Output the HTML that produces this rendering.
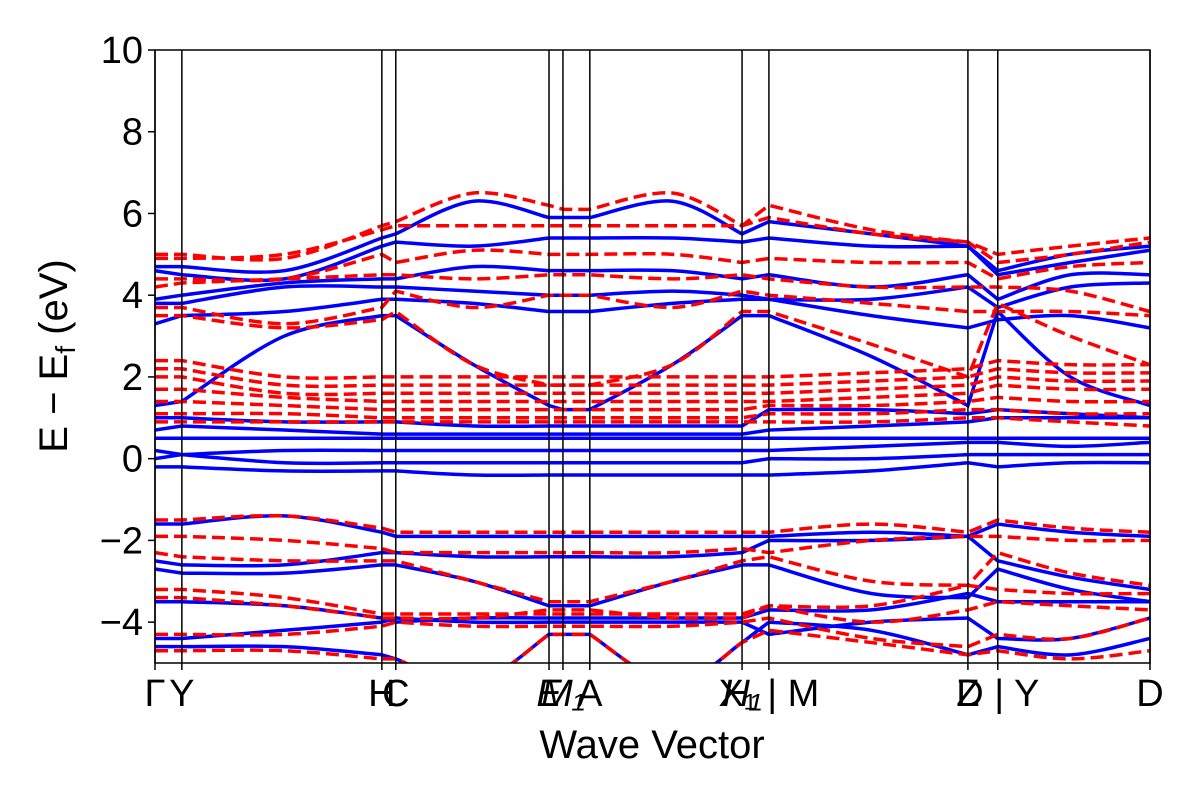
<!DOCTYPE html>
<html><head><meta charset="utf-8"><style>
body{margin:0;background:#fff}
svg text{font-family:"Liberation Sans","DejaVu Sans",sans-serif;fill:#000}
</style></head><body>
<svg id="c" width="1200" height="800" xmlns="http://www.w3.org/2000/svg">
<g id="bands"></g>
<g id="axes"></g>
</svg>
<script>
const kSamples=[0,0.027,0.13,0.228,0.242,0.32,0.396,0.41,0.437,0.52,0.59,0.617,0.72,0.817,0.847,0.92,1.0];
const tickK=[0,0.027,0.228,0.242,0.396,0.410,0.437,0.590,0.617,0.817,0.847,1.0];
const tickLabels=["Γ","Y","H","C","E","M₁","A","H₁","X₁ | M","Z","D | Y","D"];
const yTicks=[-4,-2,0,2,4,6,8,10];
const blueBands=[
[4.7,4.7,4.6,5.4,5.5,6.3,5.9,5.9,5.9,6.3,5.5,5.8,5.5,5.2,4.6,5.0,5.2],
[4.6,4.5,4.4,5.2,5.3,5.2,5.4,5.4,5.4,5.4,5.3,5.4,5.2,5.2,4.5,4.8,5.1],
[3.9,4.0,4.3,4.4,4.4,4.7,4.6,4.6,4.6,4.6,4.4,4.5,4.2,4.5,3.9,4.5,4.5],
[3.8,3.8,4.2,4.2,4.2,4.1,4.0,4.0,4.0,4.1,4.0,3.9,3.9,4.2,3.7,4.2,4.3],
[3.3,3.5,3.6,3.9,3.9,3.8,3.6,3.6,3.6,3.8,3.9,3.9,3.5,3.2,3.4,3.5,3.2],
[1.3,1.4,3.0,3.5,3.5,2.3,1.3,1.2,1.2,2.3,3.5,3.5,2.5,1.3,3.6,2.0,1.3],
[1.0,1.0,0.9,0.9,0.9,0.8,0.8,0.8,0.8,0.8,0.8,1.2,1.2,1.1,1.2,1.1,1.0],
[0.7,0.8,0.7,0.6,0.6,0.6,0.6,0.6,0.6,0.6,0.6,0.7,0.8,0.9,1.0,1.0,1.0],
[0.5,0.5,0.5,0.5,0.5,0.5,0.5,0.5,0.5,0.5,0.5,0.5,0.5,0.5,0.5,0.5,0.5],
[0.2,0.1,0.2,0.2,0.2,0.2,0.2,0.2,0.2,0.2,0.2,0.2,0.3,0.4,0.4,0.3,0.4],
[0.0,0.1,-0.1,-0.1,-0.1,-0.1,-0.1,-0.1,-0.1,-0.1,-0.1,0.0,0.0,0.1,0.1,0.1,0.1],
[-0.2,-0.2,-0.3,-0.3,-0.3,-0.4,-0.4,-0.4,-0.4,-0.4,-0.4,-0.4,-0.3,-0.1,-0.2,-0.1,-0.1],
[-1.6,-1.6,-1.4,-1.8,-1.9,-1.9,-1.9,-1.9,-1.9,-1.9,-1.9,-1.9,-1.8,-1.9,-1.6,-1.8,-1.9],
[-2.5,-2.6,-2.6,-2.3,-2.3,-2.4,-2.4,-2.4,-2.4,-2.4,-2.3,-2.0,-2.0,-1.9,-2.5,-2.9,-3.2],
[-2.7,-2.8,-2.8,-2.6,-2.6,-3.0,-3.6,-3.6,-3.6,-3.0,-2.6,-2.6,-3.3,-3.4,-2.7,-3.2,-3.5],
[-3.5,-3.5,-3.6,-3.9,-4.0,-3.9,-3.9,-3.9,-3.9,-3.9,-3.9,-3.7,-3.7,-3.3,-3.5,-3.5,-3.5],
[-4.4,-4.4,-4.2,-4.0,-3.9,-4.0,-4.0,-4.0,-4.0,-4.0,-4.0,-4.3,-4.0,-3.9,-4.4,-4.4,-3.9],
[-4.6,-4.6,-4.6,-4.8,-4.9,-5.5,-4.3,-4.3,-4.3,-5.5,-4.5,-4.0,-4.2,-4.8,-4.6,-4.8,-4.4]];
const redBands=[
[5.0,5.0,4.9,5.7,5.8,6.5,6.2,6.1,6.1,6.5,5.7,6.2,5.6,5.3,5.0,5.2,5.4],
[4.9,4.9,5.0,5.6,5.7,5.7,5.7,5.7,5.7,5.7,5.7,5.9,5.5,5.3,4.8,5.0,5.3],
[4.4,4.4,4.4,5.0,4.8,5.1,5.0,5.0,5.0,5.0,4.8,4.9,4.8,4.8,4.4,4.7,4.8],
[4.2,4.3,4.4,4.5,4.5,4.4,4.5,4.5,4.5,4.4,4.5,4.4,4.2,4.2,4.2,4.1,3.6],
[3.7,3.7,3.3,3.7,4.1,3.7,4.0,4.0,4.0,3.7,4.1,4.0,3.8,3.6,3.6,3.6,3.5],
[3.5,3.5,3.2,3.4,3.6,2.3,1.8,1.8,1.8,2.3,3.6,3.6,2.8,2.0,3.8,3.0,2.3],
[2.4,2.4,2.0,2.0,2.0,2.0,2.0,2.0,2.0,2.0,2.0,2.0,2.1,2.2,2.4,2.3,2.3],
[2.2,2.2,1.8,1.8,1.8,1.8,1.8,1.8,1.8,1.8,1.8,1.8,1.9,2.0,2.2,2.1,2.1],
[2.0,2.0,1.6,1.6,1.6,1.6,1.6,1.6,1.6,1.6,1.6,1.6,1.7,1.8,2.0,1.9,1.9],
[1.7,1.7,1.5,1.4,1.4,1.4,1.4,1.4,1.4,1.4,1.4,1.4,1.5,1.6,1.8,1.7,1.7],
[1.4,1.4,1.3,1.2,1.2,1.2,1.2,1.2,1.2,1.2,1.2,1.3,1.3,1.4,1.5,1.4,1.4],
[1.1,1.1,1.1,1.0,1.0,1.0,1.0,1.0,1.0,1.0,1.0,1.1,1.1,1.2,1.2,1.1,1.1],
[0.9,0.9,0.9,0.9,0.9,0.9,0.9,0.9,0.9,0.9,0.9,0.9,0.9,1.0,1.0,0.9,0.8],
[-1.5,-1.5,-1.4,-1.7,-1.8,-1.8,-1.8,-1.8,-1.8,-1.8,-1.8,-1.8,-1.6,-1.8,-1.5,-1.7,-1.8],
[-1.9,-1.9,-2.0,-2.2,-2.3,-2.3,-2.3,-2.3,-2.3,-2.3,-2.2,-2.3,-2.0,-1.9,-1.9,-2.0,-2.0],
[-2.3,-2.4,-2.5,-2.5,-2.5,-3.0,-3.5,-3.5,-3.5,-3.0,-2.5,-2.4,-3.0,-3.1,-2.3,-2.8,-3.1],
[-3.2,-3.2,-3.4,-3.8,-3.8,-3.8,-3.8,-3.8,-3.8,-3.8,-3.8,-3.6,-3.6,-3.1,-3.2,-3.3,-3.3],
[-3.4,-3.4,-3.6,-3.9,-3.9,-3.9,-3.7,-3.7,-3.7,-3.9,-3.9,-3.6,-4.0,-3.7,-3.5,-3.6,-3.7],
[-4.3,-4.3,-4.3,-4.1,-4.0,-4.1,-4.1,-4.1,-4.1,-4.1,-4.0,-3.9,-4.4,-4.6,-4.3,-4.4,-3.9],
[-4.7,-4.7,-4.7,-4.9,-4.9,-5.5,-4.3,-4.3,-4.3,-5.5,-4.5,-4.2,-4.5,-4.8,-4.7,-4.9,-4.7]];

const X0=155,X1=1150,Y0=50,Y1=663,EMIN=-5,EMAX=10;
const xs=k=>X0+k*(X1-X0);
const ys=e=>Y1-(e-EMIN)/(EMAX-EMIN)*(Y1-Y0);
const NS="http://www.w3.org/2000/svg";
const svg=document.getElementById('c'),bg=document.getElementById('bands'),ax=document.getElementById('axes');
function mk(t,a,p){const e=document.createElementNS(NS,t);for(const k in a)e.setAttribute(k,a[k]);p.appendChild(e);return e;}
const defs=mk('defs',{},svg);const cp=mk('clipPath',{id:'clip'},defs);
mk('rect',{x:X0,y:Y0,width:X1-X0,height:Y1-Y0},cp);
bg.setAttribute('clip-path','url(#clip)');
function pathFor(b){
  const p=kSamples.map((k,i)=>[xs(k),ys(b[i])]);
  let d='M'+p[0][0]+','+p[0][1];
  for(let i=0;i<p.length-1;i++){
    const p1=p[i],p2=p[i+1];
    if(kSamples[i+1]-kSamples[i]<0.04){d+=` L${p2[0]},${p2[1]}`;continue;}
    let p0=p[Math.max(0,i-1)],p3=p[Math.min(p.length-1,i+2)];
    if(i>0&&kSamples[i]-kSamples[i-1]<0.04)p0=p1;
    if(i+2<p.length&&kSamples[i+2]-kSamples[i+1]<0.04)p3=p2;
    const c1x=p1[0]+(p2[0]-p0[0])/6,c1y=p1[1]+(p2[1]-p0[1])/6;
    const c2x=p2[0]-(p3[0]-p1[0])/6,c2y=p2[1]-(p3[1]-p1[1])/6;
    d+=` C${c1x},${c1y} ${c2x},${c2y} ${p2[0]},${p2[1]}`;
  }
  return d;
}
blueBands.forEach((b,i)=>{
  const e=mk('path',{d:pathFor(b),fill:'none',stroke:'#0000ff','stroke-width':3.5},bg);
  
  
});
redBands.forEach((b,i)=>{
  const e=mk('path',{d:pathFor(b),fill:'none',stroke:'#ff0000','stroke-width':3.5,'stroke-dasharray':'13,6'},bg);
  
  
});
tickK.forEach((k,i)=>{
  const l=mk('line',{x1:xs(k),x2:xs(k),y1:Y0,y2:Y1,stroke:'#000','stroke-width':1.5},ax);
  
  
  mk('line',{x1:xs(k),x2:xs(k),y1:Y1,y2:Y1+7,stroke:'#000','stroke-width':1.5},ax);
  const t=mk('text',{x:xs(k),y:706,'font-size':38,'text-anchor':'middle'},ax);
  if(["E","M₁","H₁"].includes(tickLabels[i]))t.setAttribute('font-style','italic');
  t.textContent=tickLabels[i];
  
  
});
yTicks.forEach(v=>{
  mk('line',{x1:X0-7,x2:X0,y1:ys(v),y2:ys(v),stroke:'#000','stroke-width':1.5},ax);
  const t=mk('text',{x:X0-12,y:ys(v)+13,'font-size':38,'text-anchor':'end'},ax);
  t.textContent=String(v).replace('-','−');
  
  
});
const fr=mk('rect',{x:X0,y:Y0,width:X1-X0,height:Y1-Y0,fill:'none',stroke:'#000','stroke-width':1.5},ax);


const xl=mk('text',{x:652,y:758,'font-size':40,'text-anchor':'middle'},ax);
xl.textContent='Wave Vector';


const yl=mk('text',{x:0,y:0,'font-size':40,'text-anchor':'middle',transform:'translate(67,356) rotate(-90)'},ax);
yl.innerHTML='E  −  E<tspan font-size="28" dy="8">f</tspan><tspan dy="-8"> (eV)</tspan>';


</script>
</body></html>
